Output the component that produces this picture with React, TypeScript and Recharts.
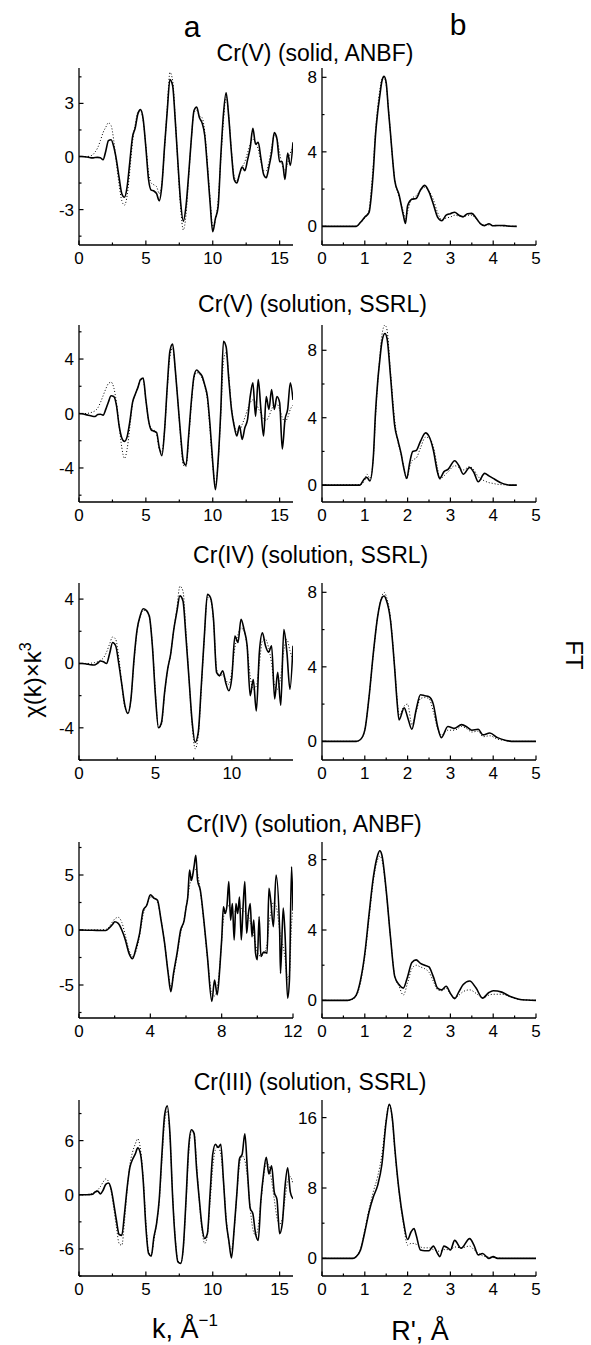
import React from 'react';
import { LineChart, Line, XAxis, YAxis } from 'recharts';

const FONT = '"Liberation Sans", Arial, Helvetica, sans-serif';

// ---------------- tick lists ----------------
const kTicks16 = [0, 2.5, 5, 7.5, 10, 12.5, 15];
const kLabels16 = [0, 5, 10, 15];
const kTicks14 = [0, 2.5, 5, 7.5, 10, 12.5];
const kLabels14 = [0, 5, 10];
const kTicks12 = [0, 2, 4, 6, 8, 10, 12];
const kLabels12 = [0, 4, 8, 12];
const rTicks = [0, 0.5, 1, 1.5, 2, 2.5, 3, 3.5, 4, 4.5, 5];
const rLabels = [0, 1, 2, 3, 4, 5];

const yTicksA1 = [-4.5, -3, -1.5, 0, 1.5, 3, 4.5];
const yLabelsA1 = [-3, 0, 3];
const yTicksA2 = [-6, -4, -2, 0, 2, 4, 6];
const yLabelsA2 = [-4, 0, 4];
const yTicksA3 = [-6, -4, -2, 0, 2, 4];
const yLabelsA3 = [-4, 0, 4];
const yTicksA4 = [-7.5, -5, -2.5, 0, 2.5, 5, 7.5];
const yLabelsA4 = [-5, 0, 5];
const yTicksA5 = [-9, -6, -3, 0, 3, 6, 9];
const yLabelsA5 = [-6, 0, 6];
const yTicksB = [0, 2, 4, 6, 8];
const yLabelsB = [0, 4, 8];
const yTicksB5 = [0, 4, 8, 12, 16];
const yLabelsB5 = [0, 8, 16];

// ---------------- titles ----------------
const titles = [
  'Cr(V) (solid, ANBF)',
  'Cr(V) (solution, SSRL)',
  'Cr(IV) (solution, SSRL)',
  'Cr(IV) (solution, ANBF)',
  'Cr(III) (solution, SSRL)',
];

// ---------------- k grids ----------------
const k16 = [
  0, 0.2, 0.4, 0.6, 0.8, 1.0, 1.2, 1.4, 1.6, 1.8,
  2.0, 2.2, 2.4, 2.6, 2.8, 3.0, 3.2, 3.4, 3.6, 3.8,
  4.0, 4.2, 4.4, 4.6, 4.8, 5.0, 5.2, 5.4, 5.6, 5.8,
  6.0, 6.2, 6.4, 6.6, 6.8, 7.0, 7.2, 7.4, 7.6, 7.8,
  8.0, 8.2, 8.4, 8.6, 8.8, 9.0, 9.2, 9.4, 9.6, 9.8,
  10.0, 10.2, 10.4, 10.6, 10.8, 11.0, 11.2, 11.4, 11.6, 11.8,
  12.0, 12.2, 12.4, 12.6, 12.8, 13.0, 13.2, 13.4, 13.6, 13.8,
  14.0, 14.2, 14.4, 14.6, 14.8, 15.0, 15.2, 15.4, 15.6, 15.8,
  16.0,
];
const k14 = [
  0, 0.2, 0.4, 0.6, 0.8, 1.0, 1.2, 1.4, 1.6, 1.8,
  2.0, 2.2, 2.4, 2.6, 2.8, 3.0, 3.2, 3.4, 3.6, 3.8,
  4.0, 4.2, 4.4, 4.6, 4.8, 5.0, 5.2, 5.4, 5.6, 5.8,
  6.0, 6.2, 6.4, 6.6, 6.8, 7.0, 7.2, 7.4, 7.6, 7.8,
  8.0, 8.2, 8.4, 8.6, 8.8, 9.0, 9.2, 9.4, 9.6, 9.8,
  10.0, 10.2, 10.4, 10.6, 10.8, 11.0, 11.2, 11.4, 11.6, 11.8,
  12.0, 12.2, 12.4, 12.6, 12.8, 13.0, 13.2, 13.4, 13.6, 13.8,
  14.0,
];
const k12 = [
  0, 0.5, 1.0, 1.5, 1.7, 1.9, 2.0, 2.2, 2.4, 2.6,
  2.8, 3.0, 3.2, 3.4, 3.6, 3.8, 4.0, 4.2, 4.4, 4.6,
  4.8, 5.0, 5.15, 5.3, 5.5, 5.7, 5.9, 6.0, 6.1, 6.2,
  6.3, 6.45, 6.55, 6.65, 6.8, 7.0, 7.2, 7.45, 7.6, 7.75,
  7.9, 8.0, 8.1, 8.2, 8.3, 8.4, 8.5, 8.6, 8.7, 8.8,
  8.9, 9.0, 9.1, 9.2, 9.3, 9.4, 9.5, 9.6, 9.7, 9.8,
  9.9, 10.0, 10.1, 10.2, 10.35, 10.55, 10.65, 10.75, 10.9, 11.05,
  11.25, 11.3, 11.45, 11.55, 11.7, 11.8, 11.92, 12.0,
];

// ---------------- panel a: chi(k) k^3 ----------------
const a1Exp = [
  0, 0, -0.01, -0.03, -0.06, -0.08, -0.06, -0.05, -0.07, -0.18,
  0.3, 0.9, 0.95, 0.55, -0.2, -1.2, -2.1, -2.3, -1.7, -0.3,
  1.1, 1.6, 2.4, 2.65, 2.1, 0.5, -1.3, -1.9, -1.95, -2.1,
  -2.5, -1.6, 0.6, 2.6, 4.35, 4.0, 2.0, -0.4, -2.6, -3.65,
  -2.8, -1.0, 1.0, 2.6, 2.8, 2.2, 1.9, 1.2, -0.6, -2.6,
  -4.25, -3.5, -2.85, 0.0, 2.4, 3.6, 2.2, 0.2, -1.3, -1.5,
  -1.0, -0.6, -0.8, -0.2, 0.5, 1.6, 0.7, 0.8, -0.1, -1.0,
  -1.2, -0.6, 0.2, 1.35, 1.0, -0.3, -0.3, -1.3, 0.2, -0.5,
  0.8,
];
const a1Fit = [
  0, 0, 0, 0, 0.02, 0.08, 0.25, 0.5, 0.9, 1.35,
  1.65, 1.9, 1.75, 0.9, -0.4, -1.6, -2.5, -2.75, -2.2, -0.8,
  0.8, 1.8, 2.5, 2.6, 2.0, 0.6, -0.9, -1.5, -1.6, -1.7,
  -2.1, -1.5, 0.5, 2.8, 4.75, 4.3, 2.1, -0.5, -2.9, -4.15,
  -3.3, -1.2, 1.0, 2.5, 2.6, 2.3, 2.2, 1.4, -0.4, -2.4,
  -3.95, -3.6, -2.5, -0.2, 2.0, 3.35, 2.3, 0.3, -1.1, -1.4,
  -1.0, -0.6, -0.3, 0.2, 0.7, 1.0, 0.8, 0.4, -0.3, -0.8,
  -0.8, -0.3, 0.5, 1.2, 1.0, 0.2, -0.5, -0.8, -0.4, 0.2,
  0.5,
];

const a2Exp = [
  0, -0.02, -0.05, -0.1, -0.15, -0.2, -0.22, -0.07, -0.05, -0.12,
  0.3, 0.85, 1.3, 1.25, 0.6, -0.9, -1.8, -2.05, -1.7, -0.6,
  0.8, 1.4, 1.9, 2.5, 2.6, 1.0, -0.5, -1.2, -1.3, -1.4,
  -2.5, -3.1, -1.2, 2.0, 4.6, 5.1, 3.2, 0.8, -1.6, -3.5,
  -3.8, -1.6, 0.9, 2.75, 3.2, 3.0, 2.75, 2.1, 1.25, -0.9,
  -3.6, -5.6, -3.5, 0.2, 5.3, 4.9, 2.5, 0.3, -0.9, -1.65,
  -0.9, -1.9, -1.05, -0.45, 1.25, 2.25, -0.2, 2.5, 0.3, -1.65,
  1.25, 0.3, 1.75, 0.3, 1.25, 0.8, -2.6, -0.45, 0.3, 2.25,
  1.0,
];
const a2Fit = [
  0, 0, 0, 0, 0.05, 0.1, 0.2, 0.4, 0.8, 1.3,
  1.8, 2.2, 2.3, 1.9, 0.8, -0.9, -2.5, -3.3, -2.6, -1.0,
  0.7, 1.4, 1.9, 2.5, 2.4, 1.0, -0.5, -1.1, -1.2, -1.5,
  -2.6, -2.8, -1.2, 1.8, 4.2, 4.8, 3.2, 0.8, -1.8, -3.8,
  -3.9, -1.8, 0.7, 2.6, 3.0, 2.9, 2.6, 2.0, 1.0, -1.2,
  -3.8, -5.2, -3.6, -0.2, 3.8, 4.5, 2.8, 0.5, -0.8, -1.4,
  -1.3, -0.8, -0.3, 0.3, 0.8, 1.0, 0.8, 0.4, 0.0, -0.4,
  -0.5, -0.2, 0.3, 0.7, 0.7, 0.3, -0.3, -0.6, -0.3, 0.3,
  0.6,
];

const a3Exp = [
  0, 0, -0.02, -0.05, -0.08, -0.1, 0.0, 0.15, 0.1, 0.0,
  0.6, 1.3, 1.1, 0.0, -1.3, -2.6, -3.1, -2.2, 0.27, 2.1,
  2.95, 3.4, 3.3, 2.95, 1.1, -2.0, -4.0, -3.65, -1.8, -0.35,
  0.6, 2.1, 3.2, 4.2, 3.9, 1.6, -1.0, -3.6, -4.9, -4.3,
  -1.4, 1.7, 4.3, 4.1, 2.75, -0.55, -0.75, -0.45, -1.2, -1.7,
  -0.85, 1.7, 1.3, 2.75, 2.1, 1.1, -2.0, -1.0, -2.95, 0.7,
  1.9, 1.1, 0.7, 1.1, -2.2, -0.55, -2.6, 2.1, 0.7, -1.6,
  1.1,
];
const a3Fit = [
  0, 0, 0, 0, 0.02, 0.05, 0.1, 0.2, 0.35, 0.7,
  1.2, 1.65, 1.5, 0.4, -1.3, -2.7, -3.1, -2.2, 0.1, 2.0,
  2.9, 3.3, 3.3, 2.9, 1.2, -1.8, -4.0, -3.8, -1.9, -0.4,
  0.6, 2.1, 3.4, 4.8, 4.5, 2.0, -1.0, -3.8, -5.3, -4.5,
  -1.6, 1.6, 4.1, 4.0, 2.6, -0.3, -0.8, -0.7, -1.0, -1.3,
  -0.5, 1.0, 1.8, 2.2, 2.0, 1.0, -0.8, -1.6, -1.4, 0.0,
  1.4, 1.5, 1.0, 0.0, -1.4, -1.6, -0.8, 0.8, 1.5, 0.8,
  0.2,
];

const a4Exp = [
  0, -0.02, -0.03, -0.05, 0.2, 0.55, 0.75, 0.6, 0, -0.9,
  -2.1, -2.6, -1.65, -0.3, 1.8, 2.25, 3.2, 2.9, 2.7, 0.9,
  -1.2, -3.95, -5.6, -3.95, -2.1, 0, 0.9, 2.0, 3.0, 5.45,
  4.5, 5.75, 6.8, 4.5, 3.65, 0.9, -2.4, -6.5, -4.55, -5.9,
  -3.35, -0.9, 2.1, 1.5, 2.25, 4.4, 0.9, 2.4, -0.9, 2.4,
  1.5, 3.0, -0.9, 2.1, 4.4, -0.3, 1.5, 2.4, -0.6, 0.9,
  -2.1, -2.7, 1.2, -2.4, -2.0, -2.1, 3.8, 2.7, 0.3, 5.0,
  0, -3.95, 2.0, -0.3, -6.2, -4.55, 5.75, 1.8,
];
const a4Fit = [
  0, 0, 0, 0.05, 0.3, 0.8, 1.0, 1.15, 0.7, -0.5,
  -1.8, -2.4, -1.9, -0.5, 1.4, 2.3, 3.0, 2.9, 2.5, 1.0,
  -1.2, -3.8, -5.2, -4.2, -2.3, -0.3, 1.0, 2.0, 3.0, 4.0,
  4.8, 5.4, 5.5, 5.1, 3.6, 0.8, -2.5, -5.8, -6.0, -5.3,
  -3.2, -1.0, 1.0, 1.8, 2.1, 2.2, 2.0, 1.8, 1.7, 1.8,
  2.0, 2.1, 2.0, 1.8, 1.6, 1.4, 1.2, 0.8, 0.2, -0.5,
  -1.3, -2.0, -2.3, -2.4, -2.2, -1.2, 0.5, 1.5, 2.5, 2.2,
  0.0, -0.6, -1.5, -2.5, -4.5, -4.0, 0.5, 2.0,
];

const a5Exp = [
  0, 0, 0, 0, 0.02, 0.05, 0.3, 0.4, 0.1, 0.5,
  1.15, 1.3, 0.65, -1.0, -2.85, -4.4, -4.5, -2.1, 0.8, 3.0,
  3.9, 4.5, 5.2, 4.5, 1.6, -3.55, -6.5, -6.8, -4.7, -3.2,
  -0.5, 4.5, 8.8, 9.85, 6.75, -0.25, -5.05, -7.45, -7.6, -5.8,
  -0.6, 5.25, 7.2, 6.8, 2.7, -0.6, -3.55, -4.85, -4.3, 0.1,
  4.5, 5.6, 5.25, 5.6, 1.6, -2.85, -5.05, -7.0, -3.8, 0.1,
  4.0, 4.5, 6.75, 2.5, -1.5, -2.1, -4.3, -5.05, -0.6, 2.3,
  4.15, 2.3, 3.2, 0.3, -0.5, -4.3, -3.2, 0.85, 3.0, 0.3,
  -0.45,
];
const a5Fit = [
  0, 0, 0, 0.02, 0.05, 0.15, 0.3, 0.55, 0.9, 1.4,
  1.75, 1.5, 0.4, -1.5, -3.6, -5.4, -5.6, -3.0, 0.5, 3.3,
  4.7, 5.6, 6.2, 5.0, 1.8, -3.0, -6.3, -6.7, -5.0, -3.2,
  -0.8, 3.8, 8.0, 9.3, 6.5, 0.0, -4.8, -7.3, -7.6, -6.0,
  -1.0, 4.5, 7.0, 7.0, 3.3, -0.8, -4.0, -5.4, -4.5, -0.8,
  3.0, 5.0, 5.3, 4.5, 1.5, -2.5, -5.2, -6.0, -4.0, 0.0,
  3.3, 4.3, 3.8, 1.8, -1.5, -3.8, -4.5, -3.5, -0.8, 2.0,
  3.5, 3.2, 1.6, -0.5, -2.5, -3.3, -2.6, -0.5, 1.5, 2.0,
  1.2,
];

// ---------------- panel b: FT ----------------
const r1 = [
  0, 0.8, 0.9, 1.0, 1.1, 1.15, 1.2, 1.25, 1.3, 1.35,
  1.4, 1.45, 1.5, 1.55, 1.6, 1.65, 1.7, 1.8, 1.9, 1.95,
  2.0, 2.1, 2.2, 2.3, 2.4, 2.5, 2.6, 2.7, 2.8, 2.9,
  3.0, 3.1, 3.2, 3.3, 3.4, 3.5, 3.6, 3.7, 3.8, 3.9,
  4.0, 4.1, 4.2, 4.3, 4.4, 4.55,
];
const b1Exp = [
  0, 0, 0.22, 0.5, 0.75, 1.6, 3.0, 4.9, 6.1, 7.0,
  7.8, 8.05, 7.7, 6.3, 5.0, 3.6, 2.45, 1.7, 0.6, 0.15,
  1.1, 1.45, 1.5, 1.95, 2.2, 1.85, 1.2, 0.5, 0.3, 0.6,
  0.68, 0.76, 0.6, 0.52, 0.68, 0.7, 0.45, 0.15, 0.04, 0.14,
  0.03, 0.05, 0.05, 0.03, 0.01, 0,
];
const b1Fit = [
  0, 0, 0.2, 0.45, 0.9, 2.0, 3.4, 5.1, 6.4, 7.3,
  7.9, 8.0, 7.6, 6.4, 5.0, 3.6, 2.5, 1.6, 0.8, 0.4,
  0.8, 1.5, 1.65, 1.9, 2.1, 1.9, 1.45, 0.75, 0.35, 0.45,
  0.5, 0.6, 0.55, 0.5, 0.6, 0.6, 0.4, 0.15, 0.08, 0.08,
  0.05, 0.04, 0.03, 0.02, 0.01, 0,
];

const r2 = [
  0, 0.88, 1.0, 1.05, 1.12, 1.2, 1.25, 1.3, 1.35, 1.4,
  1.47, 1.52, 1.6, 1.7, 1.78, 1.85, 1.9, 1.98, 2.05, 2.12,
  2.2, 2.3, 2.42, 2.5, 2.6, 2.7, 2.75, 2.85, 2.95, 3.1,
  3.2, 3.3, 3.45, 3.55, 3.65, 3.8, 3.9, 4.0, 4.1, 4.2,
  4.3, 4.4, 4.55,
];
const b2Exp = [
  0, 0, 0.4, 0.45, 0.25, 1.7, 4.3, 6.1, 7.4, 8.5,
  9.0, 8.7, 6.5, 3.5, 2.6, 1.85, 1.15, 0.4, 1.35, 2.0,
  2.05, 2.6, 3.1, 2.9, 2.1, 0.75, 0.4, 0.8, 0.95, 1.45,
  1.15, 0.65, 1.05, 0.75, 0.2, 0.7, 0.55, 0.4, 0.25, 0.12,
  0.04, 0, 0,
];
const b2Fit = [
  0, 0.02, 0.3, 0.65, 0.4, 1.6, 4.0, 6.0, 7.6, 8.9,
  9.5, 9.2, 6.7, 3.8, 2.5, 1.8, 1.2, 0.35, 1.1, 1.5,
  1.6, 2.2, 2.85, 2.8, 2.3, 1.0, 0.35, 0.55, 0.8, 1.15,
  1.05, 0.9, 1.1, 0.9, 0.5, 0.25, 0.15, 0.1, 0.05, 0.03,
  0.02, 0.01, 0,
];

const r3 = [
  0, 0.8, 0.9, 1.0, 1.1, 1.2, 1.3, 1.4, 1.45, 1.5,
  1.6, 1.7, 1.75, 1.8, 1.92, 2.0, 2.1, 2.2, 2.3, 2.4,
  2.5, 2.6, 2.7, 2.79, 2.94, 3.1, 3.26, 3.4, 3.5, 3.65,
  3.76, 3.92, 4.1, 4.3, 4.5, 5.0,
];
const b3Exp = [
  0, 0, 0.1, 0.6, 2.4, 4.75, 6.7, 7.7, 7.8, 7.6,
  6.5, 3.85, 2.25, 1.15, 1.8, 1.3, 0.65, 1.7, 2.5, 2.45,
  2.4, 2.0, 0.8, 0.2, 0.8, 0.7, 0.9, 0.75, 0.6, 0.65,
  0.35, 0.45, 0.2, 0.05, 0, 0,
];
const b3Fit = [
  0, 0, 0.1, 0.6, 2.4, 4.7, 6.7, 7.8, 8.0, 7.8,
  6.6, 3.9, 2.4, 1.4, 1.9, 2.0, 0.9, 1.6, 2.3, 2.35,
  2.3, 1.6, 0.7, 0.35, 0.6, 0.6, 0.8, 0.65, 0.5, 0.55,
  0.25, 0.3, 0.12, 0.04, 0, 0,
];

const r4 = [
  0, 0.6, 0.7, 0.8, 0.9, 1.0, 1.1, 1.2, 1.3, 1.35,
  1.4, 1.5, 1.6, 1.7, 1.8, 1.9, 2.0, 2.1, 2.2, 2.3,
  2.4, 2.5, 2.6, 2.7, 2.8, 2.9, 3.0, 3.1, 3.2, 3.3,
  3.45, 3.6, 3.75, 3.9, 4.0, 4.2, 4.4, 4.6, 4.8, 5.0,
];
const b4Exp = [
  0, 0, 0.07, 0.3, 1.15, 2.65, 4.9, 7.0, 8.25, 8.5,
  8.25, 6.25, 3.6, 1.35, 0.9, 0.7, 1.35, 2.15, 2.3, 2.1,
  2.0, 1.9, 1.35, 0.7, 0.6, 0.8, 0.4, 0.1, 0.5, 0.9,
  1.1, 0.7, 0.13, 0.45, 0.55, 0.47, 0.22, 0.07, 0.02, 0,
];
const b4Fit = [
  0, 0, 0.05, 0.25, 1.0, 2.5, 4.7, 6.8, 8.0, 8.2,
  8.0, 6.2, 3.6, 1.4, 0.8, 0.3, 1.0, 1.8, 2.0, 1.9,
  1.8, 1.6, 1.1, 0.6, 0.55, 0.7, 0.35, 0.15, 0.3, 0.5,
  0.6, 0.4, 0.15, 0.3, 0.35, 0.35, 0.2, 0.06, 0.02, 0,
];

const r5 = [
  0, 0.72, 0.8, 0.9, 1.0, 1.1, 1.2, 1.3, 1.4, 1.5,
  1.57, 1.65, 1.7, 1.8, 1.9, 2.0, 2.08, 2.15, 2.2, 2.3,
  2.4, 2.5, 2.6, 2.7, 2.75, 2.85, 2.95, 3.0, 3.1, 3.25,
  3.45, 3.55, 3.65, 3.75, 3.9, 4.0, 4.1, 4.3, 5.0,
];
const b5Exp = [
  0, 0, 0.2, 0.95, 3.0, 5.3, 7.0, 8.3, 10.7, 15.6,
  17.5, 15.6, 12.6, 7.7, 4.3, 2.15, 3.0, 3.4, 2.65, 0.95,
  0.87, 0.87, 1.4, 0.55, 0.2, 1.4, 1.15, 0.95, 2.05, 1.15,
  2.25, 1.5, 0.4, 0.55, 0, 0.2, 0, 0, 0,
];
const b5Fit = [
  0, 0, 0.25, 1.1, 3.2, 5.6, 7.6, 9.3, 11.8, 15.8,
  17.5, 15.4, 12.4, 7.5, 4.0, 1.5, 1.7, 1.7, 1.6, 1.3,
  1.2, 1.2, 1.0, 0.85, 0.8, 1.0, 1.0, 1.0, 1.3, 1.2,
  1.4, 1.0, 0.6, 0.3, 0.15, 0.1, 0.05, 0, 0,
];

// ---------------- layout ----------------
const rows = [
  { top: 68, bottom: 245, title: { x: 315, y: 60.5 } },
  { top: 325, bottom: 502, title: { x: 312.5, y: 312 } },
  { top: 583, bottom: 760, title: { x: 310.7, y: 563 } },
  { top: 842, bottom: 1018, title: { x: 304.2, y: 832 } },
  { top: 1100, bottom: 1276, title: { x: 310, y: 1090 } },
];
const LEFT_X = 79;
const RIGHT_X = 322;
const PLOT_W = 214;

const isMajor = (labels: number[], v: number) => labels.some((l) => Math.abs(l - v) < 1e-9);

const makeXTick = (labels: number[]) => (props: any) => {
  const { x, y, payload } = props;
  const v = payload.value as number;
  const major = isMajor(labels, v);
  return (
    <g>
      <line x1={x} x2={x} y1={y} y2={y - (major ? 4.5 : 2.5)} stroke="#000" strokeWidth={1.2} />
      {major && (
        <text x={x} y={y + 18.5} textAnchor="middle" fontSize={17} fontFamily={FONT} fill="#000">
          {String(v)}
        </text>
      )}
    </g>
  );
};

const makeYTick = (labels: number[]) => (props: any) => {
  const { x, y, payload } = props;
  const v = payload.value as number;
  const major = isMajor(labels, v);
  return (
    <g>
      <line x1={x} x2={x + (major ? 4.5 : 2.5)} y1={y} y2={y} stroke="#000" strokeWidth={1.2} />
      {major && (
        <text x={x - 5} y={y + 6} textAnchor="end" fontSize={17} fontFamily={FONT} fill="#000">
          {String(v)}
        </text>
      )}
    </g>
  );
};

type PanelProps = {
  plotX: number;
  top: number;
  bottom: number;
  grid: number[];
  exp: number[];
  fit: number[];
  xDomain: [number, number];
  xTicks: number[];
  xLabels: number[];
  yDomain: [number, number];
  yTicks: number[];
  yLabels: number[];
};

function Panel(p: PanelProps) {
  const data = p.grid.map((x, i) => ({ x, exp: p.exp[i], fit: p.fit[i] }));
  const plotH = p.bottom - p.top;
  return (
    <div style={{ position: 'absolute', left: p.plotX - 40, top: p.top - 10 }}>
      <LineChart
        width={PLOT_W + 50}
        height={plotH + 40}
        data={data}
        margin={{ top: 10, right: 10, left: 0, bottom: 0 }}
      >
        <XAxis
          type="number"
          dataKey="x"
          domain={p.xDomain}
          ticks={p.xTicks}
          interval={0}
          height={30}
          tickSize={0}
          tickMargin={0}
          tickLine={false}
          allowDataOverflow
          axisLine={{ stroke: '#000', strokeWidth: 1.3 }}
          tick={makeXTick(p.xLabels)}
        />
        <YAxis
          type="number"
          domain={p.yDomain}
          ticks={p.yTicks}
          interval={0}
          width={40}
          tickSize={0}
          tickMargin={0}
          tickLine={false}
          allowDataOverflow
          axisLine={{ stroke: '#000', strokeWidth: 1.3 }}
          tick={makeYTick(p.yLabels)}
        />
        <Line
          type="monotone"
          dataKey="fit"
          stroke="#000"
          strokeWidth={1}
          strokeDasharray="1 2"
          dot={false}
          activeDot={false}
          isAnimationActive={false}
        />
        <Line
          type="monotone"
          dataKey="exp"
          stroke="#000"
          strokeWidth={1.6}
          strokeLinejoin="round"
          dot={false}
          activeDot={false}
          isAnimationActive={false}
        />
      </LineChart>
    </div>
  );
}

const panelsA = [
  { grid: k16, exp: a1Exp, fit: a1Fit, xDomain: [0, 16], xTicks: kTicks16, xLabels: kLabels16, yDomain: [-5, 5], yTicks: yTicksA1, yLabels: yLabelsA1 },
  { grid: k16, exp: a2Exp, fit: a2Fit, xDomain: [0, 16], xTicks: kTicks16, xLabels: kLabels16, yDomain: [-6.5, 6.5], yTicks: yTicksA2, yLabels: yLabelsA2 },
  { grid: k14, exp: a3Exp, fit: a3Fit, xDomain: [0, 14], xTicks: kTicks14, xLabels: kLabels14, yDomain: [-6, 5], yTicks: yTicksA3, yLabels: yLabelsA3 },
  { grid: k12, exp: a4Exp, fit: a4Fit, xDomain: [0, 12], xTicks: kTicks12, xLabels: kLabels12, yDomain: [-8, 8], yTicks: yTicksA4, yLabels: yLabelsA4 },
  { grid: k16, exp: a5Exp, fit: a5Fit, xDomain: [0, 16], xTicks: kTicks16, xLabels: kLabels16, yDomain: [-9, 10.5], yTicks: yTicksA5, yLabels: yLabelsA5 },
];
const panelsB = [
  { grid: r1, exp: b1Exp, fit: b1Fit, yDomain: [-1, 8.5], yTicks: yTicksB, yLabels: yLabelsB },
  { grid: r2, exp: b2Exp, fit: b2Fit, yDomain: [-1, 9.5], yTicks: yTicksB, yLabels: yLabelsB },
  { grid: r3, exp: b3Exp, fit: b3Fit, yDomain: [-1, 8.5], yTicks: yTicksB, yLabels: yLabelsB },
  { grid: r4, exp: b4Exp, fit: b4Fit, yDomain: [-1, 9], yTicks: yTicksB, yLabels: yLabelsB },
  { grid: r5, exp: b5Exp, fit: b5Fit, yDomain: [-2, 18], yTicks: yTicksB5, yLabels: yLabelsB5 },
];

export default function App() {
  return (
    <div
      style={{
        position: 'absolute',
        left: 0,
        top: 0,
        width: 591,
        height: 1345,
        background: '#fff',
        overflow: 'hidden',
      }}
    >
      {rows.map((row, i) => {
        const a = panelsA[i];
        const b = panelsB[i];
        return (
          <React.Fragment key={i}>
            <Panel
              plotX={LEFT_X}
              top={row.top}
              bottom={row.bottom}
              grid={a.grid}
              exp={a.exp}
              fit={a.fit}
              xDomain={a.xDomain as [number, number]}
              xTicks={a.xTicks}
              xLabels={a.xLabels}
              yDomain={a.yDomain as [number, number]}
              yTicks={a.yTicks}
              yLabels={a.yLabels}
            />
            <Panel
              plotX={RIGHT_X}
              top={row.top}
              bottom={row.bottom}
              grid={b.grid}
              exp={b.exp}
              fit={b.fit}
              xDomain={[0, 5]}
              xTicks={rTicks}
              xLabels={rLabels}
              yDomain={b.yDomain as [number, number]}
              yTicks={b.yTicks}
              yLabels={b.yLabels}
            />
          </React.Fragment>
        );
      })}
      <svg
        width={591}
        height={1345}
        style={{ position: 'absolute', left: 0, top: 0, pointerEvents: 'none' }}
        fontFamily={FONT}
      >
        <text x={192} y={37} textAnchor="middle" fontSize={30} fill="#000">a</text>
        <text x={458} y={35} textAnchor="middle" fontSize={30} fill="#000">b</text>
        {rows.map((row, i) => (
          <text key={i} x={row.title.x} y={row.title.y} textAnchor="middle" fontSize={23} fill="#000">
            {titles[i]}
          </text>
        ))}
        <text x={41} y={680} transform="rotate(-90 41 680)" textAnchor="middle" fontSize={24} fill="#000">
          χ(k)×k<tspan dy={-10} fontSize={16}>3</tspan>
        </text>
        <text x={566} y={655} transform="rotate(90 566 655)" textAnchor="middle" fontSize={24} fill="#000">
          FT
        </text>
        <text x={152} y={1338} textAnchor="start" fontSize={27} fill="#000">
          k, Å<tspan dy={-12} fontSize={17}>−1</tspan>
        </text>
        <text x={420} y={1340} textAnchor="middle" fontSize={27} fill="#000">
          R', Å
        </text>
      </svg>
    </div>
  );
}
